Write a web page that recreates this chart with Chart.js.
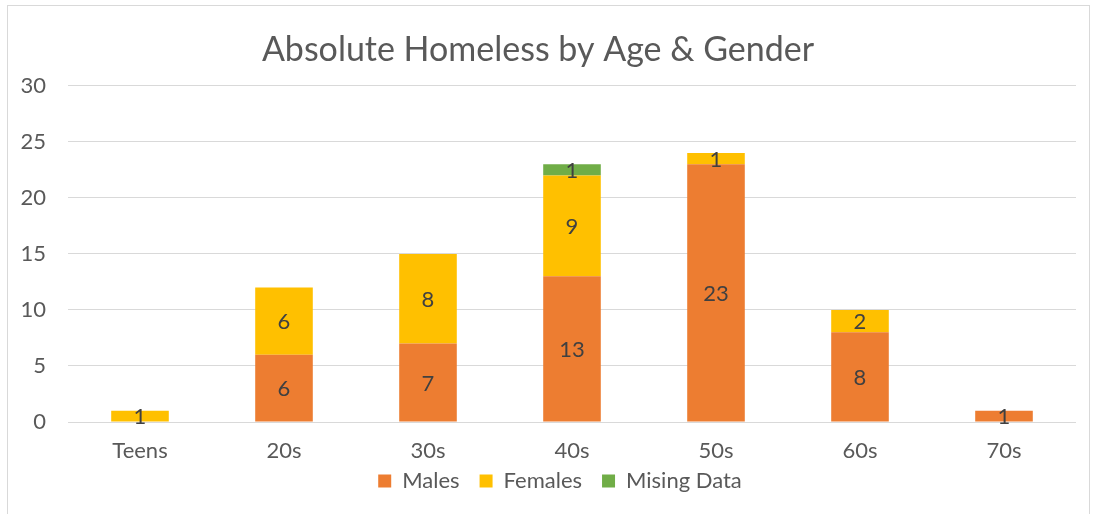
<!DOCTYPE html>
<html>
<head>
<meta charset="utf-8">
<script src="https://cdn.jsdelivr.net/npm/chart.js@4"></script>
<style>
  html, body { margin: 0; padding: 0; background: #fff; }
  #wrap { width: 1095px; height: 514px; }
</style>
</head>
<body>
<div id="wrap"><canvas id="myChart" width="1095" height="514"></canvas></div>
<script>
const categories = ["Teens", "20s", "30s", "40s", "50s", "60s", "70s"];
const males = [0, 6, 7, 13, 23, 8, 1];
const females = [1, 6, 8, 9, 1, 2, 0];
const missing = [0, 0, 0, 1, 0, 0, 0];
const yTicks = [0, 5, 10, 15, 20, 25, 30];

const FONT = "Lato, 'Open Sans', sans-serif";

// рамка вокруг всей диаграммы + сдвиг легенды
const framePlugin = {
    id: "frame",
    afterLayout(chart) {
        if (chart.legend) {
            chart.legend.top -= 12;
            chart.legend.bottom -= 12;
            chart.legend.left += 22;
            chart.legend.right += 22;
        }
    },
    beforeDraw(chart) {
        const c = chart.ctx;
        c.save();
        c.fillStyle = "#fff";
        c.fillRect(0, 0, chart.width, chart.height);
        c.strokeStyle = "#d9d9d9";
        c.lineWidth = 1;
        c.strokeRect(7.5, 5.5, 1082, 520);
        c.restore();
    }
};

// подписи значений по центру сегментов
const labelsPlugin = {
    id: "segLabels",
    afterDatasetsDraw(chart) {
        const c = chart.ctx;
        c.save();
        c.font = "22px " + FONT;
        c.fillStyle = "#404040";
        c.textAlign = "center";
        c.textBaseline = "middle";
        chart.data.datasets.forEach((ds, i) => {
            const meta = chart.getDatasetMeta(i);
            meta.data.forEach((bar, j) => {
                const v = ds.data[j];
                if (!v) return;
                const mid = (bar.y + bar.base) / 2;
                c.fillText(String(v), bar.x, mid + 1);
            });
        });
        c.restore();
    }
};

const ctx = document.getElementById("myChart").getContext("2d");
new Chart(ctx, {
    type: "bar",
    data: {
        labels: categories,
        datasets: [
            { label: "Males", data: males, backgroundColor: "#ed7d31" },
            { label: "Females", data: females, backgroundColor: "#ffc000" },
            { label: "Mising Data", data: missing, backgroundColor: "#70ad47" },
        ],
    },
    plugins: [framePlugin, labelsPlugin],
    options: {
        responsive: false,
        animation: false,
        barPercentage: 0.8,
        categoryPercentage: 0.5,
        layout: { padding: { left: 0, right: 19, top: 0, bottom: 0 } },
        plugins: {
            title: {
                display: true,
                text: "Absolute Homeless by Age & Gender",
                color: "#595959",
                font: { family: FONT, size: 34, weight: "normal" },
                padding: { top: 30, bottom: 15 },
            },
            legend: {
                position: "bottom",
                labels: {
                    color: "#595959",
                    font: { family: FONT, size: 22 },
                    boxWidth: 13,
                    boxHeight: 13,
                    padding: 20,
                },
            },
            tooltip: { enabled: false },
        },
        scales: {
            x: {
                stacked: true,
                grid: { display: false },
                border: { display: false },
                ticks: { color: "#595959", font: { family: FONT, size: 22 }, padding: 8 },
                afterFit(scale) { scale.height = 40; },
            },
            y: {
                stacked: true,
                min: 0,
                max: 30,
                afterBuildTicks(scale) {
                    scale.ticks = yTicks.map(v => ({ value: v }));
                },
                afterFit(scale) { scale.width = 68; },
                grid: { color: "#d9d9d9", lineWidth: 1, drawTicks: false },
                border: { display: false },
                ticks: { color: "#595959", font: { family: FONT, size: 22 }, padding: 22 },
            },
        },
    },
});
</script>
</body>
</html>
